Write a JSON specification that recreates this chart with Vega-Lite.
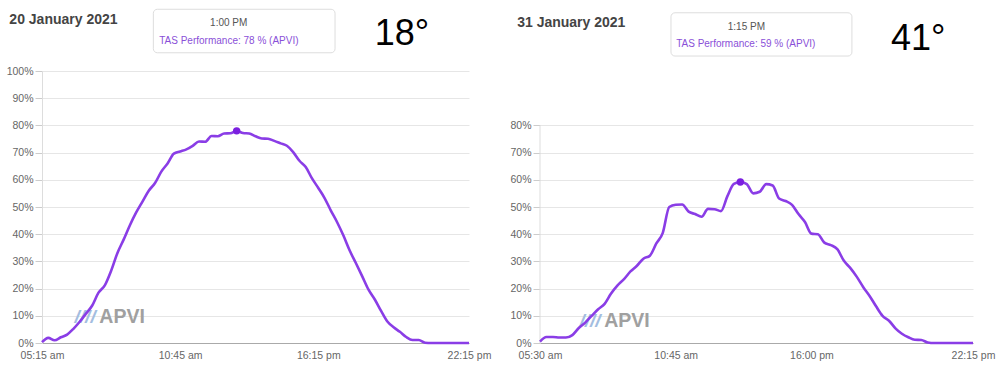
{
  "$schema": "https://vega.github.io/schema/vega-lite/v6.json",
  "padding": {"left": 6, "top": 8, "right": 5, "bottom": 5},
  "background": "white",
  "bounds": "flush",
  "spacing": 71,
  "config": {"view": {"stroke": null}, "font": "Liberation Sans"},
  "datasets": {
    "jan20": [
      {"t": "2021-01-20T05:15", "v": 0.3}, {"t": "2021-01-20T05:30", "v": 1.9}, {"t": "2021-01-20T05:45", "v": 1.0},
      {"t": "2021-01-20T06:00", "v": 2.1}, {"t": "2021-01-20T06:15", "v": 3.1}, {"t": "2021-01-20T06:30", "v": 5.2},
      {"t": "2021-01-20T06:45", "v": 7.8}, {"t": "2021-01-20T07:00", "v": 10.8}, {"t": "2021-01-20T07:15", "v": 13.8},
      {"t": "2021-01-20T07:30", "v": 18.5}, {"t": "2021-01-20T07:45", "v": 21.2}, {"t": "2021-01-20T08:00", "v": 26.5},
      {"t": "2021-01-20T08:15", "v": 33.0}, {"t": "2021-01-20T08:30", "v": 38.0}, {"t": "2021-01-20T08:45", "v": 43.3},
      {"t": "2021-01-20T09:00", "v": 48.0}, {"t": "2021-01-20T09:15", "v": 52.0}, {"t": "2021-01-20T09:30", "v": 56.0},
      {"t": "2021-01-20T09:45", "v": 58.8}, {"t": "2021-01-20T10:00", "v": 63.0}, {"t": "2021-01-20T10:15", "v": 66.0},
      {"t": "2021-01-20T10:30", "v": 69.6}, {"t": "2021-01-20T10:45", "v": 70.4}, {"t": "2021-01-20T11:00", "v": 71.2},
      {"t": "2021-01-20T11:15", "v": 72.5}, {"t": "2021-01-20T11:30", "v": 74.1}, {"t": "2021-01-20T11:45", "v": 74.0},
      {"t": "2021-01-20T12:00", "v": 76.1}, {"t": "2021-01-20T12:15", "v": 76.0}, {"t": "2021-01-20T12:30", "v": 77.0},
      {"t": "2021-01-20T12:45", "v": 77.1}, {"t": "2021-01-20T13:00", "v": 78.0}, {"t": "2021-01-20T13:15", "v": 77.2},
      {"t": "2021-01-20T13:30", "v": 77.0}, {"t": "2021-01-20T13:45", "v": 76.0}, {"t": "2021-01-20T14:00", "v": 75.2},
      {"t": "2021-01-20T14:15", "v": 75.1}, {"t": "2021-01-20T14:30", "v": 74.3}, {"t": "2021-01-20T14:45", "v": 73.4},
      {"t": "2021-01-20T15:00", "v": 72.5}, {"t": "2021-01-20T15:15", "v": 70.2}, {"t": "2021-01-20T15:30", "v": 67.0},
      {"t": "2021-01-20T15:45", "v": 64.7}, {"t": "2021-01-20T16:00", "v": 60.5}, {"t": "2021-01-20T16:15", "v": 57.0},
      {"t": "2021-01-20T16:30", "v": 53.3}, {"t": "2021-01-20T16:45", "v": 48.7}, {"t": "2021-01-20T17:00", "v": 44.4},
      {"t": "2021-01-20T17:15", "v": 39.5}, {"t": "2021-01-20T17:30", "v": 34.0}, {"t": "2021-01-20T17:45", "v": 29.3},
      {"t": "2021-01-20T18:00", "v": 24.5}, {"t": "2021-01-20T18:15", "v": 19.6}, {"t": "2021-01-20T18:30", "v": 16.0},
      {"t": "2021-01-20T18:45", "v": 11.8}, {"t": "2021-01-20T19:00", "v": 7.9}, {"t": "2021-01-20T19:15", "v": 5.8},
      {"t": "2021-01-20T19:30", "v": 4.1}, {"t": "2021-01-20T19:45", "v": 2.2}, {"t": "2021-01-20T20:00", "v": 1.1},
      {"t": "2021-01-20T20:15", "v": 1.1}, {"t": "2021-01-20T20:30", "v": 0.1}, {"t": "2021-01-20T20:45", "v": 0},
      {"t": "2021-01-20T21:00", "v": 0}, {"t": "2021-01-20T21:15", "v": 0}, {"t": "2021-01-20T21:30", "v": 0},
      {"t": "2021-01-20T21:45", "v": 0}, {"t": "2021-01-20T22:00", "v": 0}, {"t": "2021-01-20T22:15", "v": 0}
    ],
    "jan31": [
      {"t": "2021-01-31T05:30", "v": 0.5}, {"t": "2021-01-31T05:45", "v": 2.2}, {"t": "2021-01-31T06:00", "v": 2.2},
      {"t": "2021-01-31T06:15", "v": 2.0}, {"t": "2021-01-31T06:30", "v": 2.0}, {"t": "2021-01-31T06:45", "v": 2.9},
      {"t": "2021-01-31T07:00", "v": 5.5}, {"t": "2021-01-31T07:15", "v": 7.5}, {"t": "2021-01-31T07:30", "v": 10.0},
      {"t": "2021-01-31T07:45", "v": 12.4}, {"t": "2021-01-31T08:00", "v": 14.4}, {"t": "2021-01-31T08:15", "v": 18.2},
      {"t": "2021-01-31T08:30", "v": 21.2}, {"t": "2021-01-31T08:45", "v": 23.5}, {"t": "2021-01-31T09:00", "v": 26.3},
      {"t": "2021-01-31T09:15", "v": 28.4}, {"t": "2021-01-31T09:30", "v": 31.0}, {"t": "2021-01-31T09:45", "v": 32.1},
      {"t": "2021-01-31T10:00", "v": 36.6}, {"t": "2021-01-31T10:15", "v": 40.5}, {"t": "2021-01-31T10:30", "v": 50.0},
      {"t": "2021-01-31T10:45", "v": 50.8}, {"t": "2021-01-31T11:00", "v": 50.9}, {"t": "2021-01-31T11:15", "v": 48.3},
      {"t": "2021-01-31T11:30", "v": 47.4}, {"t": "2021-01-31T11:45", "v": 46.4}, {"t": "2021-01-31T12:00", "v": 49.3},
      {"t": "2021-01-31T12:15", "v": 49.2}, {"t": "2021-01-31T12:30", "v": 48.5}, {"t": "2021-01-31T12:45", "v": 54.0},
      {"t": "2021-01-31T13:00", "v": 58.5}, {"t": "2021-01-31T13:15", "v": 59.2}, {"t": "2021-01-31T13:30", "v": 58.4},
      {"t": "2021-01-31T13:45", "v": 55.0}, {"t": "2021-01-31T14:00", "v": 55.6}, {"t": "2021-01-31T14:15", "v": 58.4},
      {"t": "2021-01-31T14:30", "v": 57.9}, {"t": "2021-01-31T14:45", "v": 53.1}, {"t": "2021-01-31T15:00", "v": 52.2},
      {"t": "2021-01-31T15:15", "v": 50.8}, {"t": "2021-01-31T15:30", "v": 47.4}, {"t": "2021-01-31T15:45", "v": 44.5},
      {"t": "2021-01-31T16:00", "v": 40.2}, {"t": "2021-01-31T16:15", "v": 40.0}, {"t": "2021-01-31T16:30", "v": 36.9},
      {"t": "2021-01-31T16:45", "v": 36.0}, {"t": "2021-01-31T17:00", "v": 34.5}, {"t": "2021-01-31T17:15", "v": 30.3},
      {"t": "2021-01-31T17:30", "v": 27.6}, {"t": "2021-01-31T17:45", "v": 24.4}, {"t": "2021-01-31T18:00", "v": 20.6},
      {"t": "2021-01-31T18:15", "v": 17.3}, {"t": "2021-01-31T18:30", "v": 13.5}, {"t": "2021-01-31T18:45", "v": 10.0},
      {"t": "2021-01-31T19:00", "v": 8.2}, {"t": "2021-01-31T19:15", "v": 5.4}, {"t": "2021-01-31T19:30", "v": 3.4},
      {"t": "2021-01-31T19:45", "v": 2.1}, {"t": "2021-01-31T20:00", "v": 1.2}, {"t": "2021-01-31T20:15", "v": 1.1},
      {"t": "2021-01-31T20:30", "v": 0.2}, {"t": "2021-01-31T20:45", "v": 0}, {"t": "2021-01-31T21:00", "v": 0},
      {"t": "2021-01-31T21:15", "v": 0}, {"t": "2021-01-31T21:30", "v": 0}, {"t": "2021-01-31T21:45", "v": 0},
      {"t": "2021-01-31T22:00", "v": 0}, {"t": "2021-01-31T22:15", "v": 0}
    ]
  },
  "hconcat": [
    {
      "width": 427,
      "height": 272,
      "layer": [
        {
          "data": {"values": [{"label": "////"}]},
          "mark": {"type": "text", "align": "center", "baseline": "alphabetic", "fontSize": 19, "fontWeight": "bold", "fontStyle": "italic", "color": "#a3bde0"},
          "encoding": {
            "x": {"datum": {"year": 2021, "month": 1, "date": 20, "hours": 6, "minutes": 58}, "type": "temporal"},
            "y": {"datum": 7.2, "type": "quantitative"},
            "text": {"field": "label"}
          }
        },
        {
          "data": {"values": [{"label": "APVI"}]},
          "mark": {"type": "text", "align": "left", "baseline": "alphabetic", "fontSize": 19.5, "fontWeight": "bold", "color": "#a0a0a0"},
          "encoding": {
            "x": {"datum": {"year": 2021, "month": 1, "date": 20, "hours": 7, "minutes": 32}, "type": "temporal"},
            "y": {"datum": 7.2, "type": "quantitative"},
            "text": {"field": "label"}
          }
        },
        {
          "data": {"name": "jan20"},
          "mark": {"type": "line", "interpolate": "monotone", "color": "#8a3de6", "strokeWidth": 2.6},
          "encoding": {
            "x": {
              "field": "t", "type": "temporal",
              "scale": {"domain": [{"year": 2021, "month": 1, "date": 20, "hours": 5, "minutes": 15}, {"year": 2021, "month": 1, "date": 20, "hours": 22, "minutes": 15}]},
              "axis": {
                "title": null, "grid": false, "ticks": false, "tickSize": 0, "labelPadding": 7,
                "values": [
                  {"year": 2021, "month": 1, "date": 20, "hours": 5, "minutes": 15},
                  {"year": 2021, "month": 1, "date": 20, "hours": 10, "minutes": 45},
                  {"year": 2021, "month": 1, "date": 20, "hours": 16, "minutes": 15},
                  {"year": 2021, "month": 1, "date": 20, "hours": 22, "minutes": 15}
                ],
                "labelExpr": "timeFormat(datum.value, '%H:%M') + (hours(datum.value) < 12 ? ' am' : ' pm')",
                "labelFlush": false, "labelOverlap": false, "labelColor": "#666666", "labelFontSize": 10.5,
                "domainColor": "#aaaaaa"
              }
            },
            "y": {
              "field": "v", "type": "quantitative",
              "scale": {"domain": [0, 100]},
              "axis": {
                "title": null, "values": [0, 10, 20, 30, 40, 50, 60, 70, 80, 90, 100], "tickCount": 11,
                "labelExpr": "datum.value + '%'", "grid": true, "gridColor": "#e6e6e6", "labelOverlap": false,
                "domainColor": "#dddddd", "tickColor": "#cccccc", "tickSize": 7, "labelPadding": 2,
                "labelColor": "#666666", "labelFontSize": 10.5
              }
            }
          }
        },
        {
          "data": {"values": [{"t": "2021-01-20T13:00", "v": 78}]},
          "mark": {"type": "point", "filled": true, "size": 55, "color": "#7b1fe0", "opacity": 1},
          "encoding": {"x": {"field": "t", "type": "temporal"}, "y": {"field": "v", "type": "quantitative"}}
        },
        {
          "data": {"values": [{"label": "box"}]},
          "mark": {"type": "rect", "fill": "white", "stroke": "#dddddd", "strokeWidth": 1, "cornerRadius": 4},
          "encoding": {
            "x": {"datum": {"year": 2021, "month": 1, "date": 20, "hours": 9, "minutes": 41}, "type": "temporal"},
            "x2": {"datum": {"year": 2021, "month": 1, "date": 20, "hours": 16, "minutes": 55}},
            "y": {"datum": 122.7, "type": "quantitative"},
            "y2": {"datum": 106.7}
          }
        },
        {
          "data": {"values": [{"label": "1:00 PM"}]},
          "mark": {"type": "text", "align": "center", "baseline": "alphabetic", "fontSize": 10, "color": "#555555"},
          "encoding": {
            "x": {"datum": {"year": 2021, "month": 1, "date": 20, "hours": 12, "minutes": 41}, "type": "temporal"},
            "y": {"datum": 116.4, "type": "quantitative"},
            "text": {"field": "label"}
          }
        },
        {
          "data": {"values": [{"label": "TAS Performance: 78 % (APVI)"}]},
          "mark": {"type": "text", "align": "left", "baseline": "alphabetic", "fontSize": 10, "color": "#8a4fd8"},
          "encoding": {
            "x": {"datum": {"year": 2021, "month": 1, "date": 20, "hours": 9, "minutes": 55}, "type": "temporal"},
            "y": {"datum": 110.0, "type": "quantitative"},
            "text": {"field": "label"}
          }
        },
        {
          "data": {"values": [{"label": "20 January 2021"}]},
          "mark": {"type": "text", "align": "left", "baseline": "alphabetic", "fontSize": 14, "fontWeight": "bold", "color": "#444444"},
          "encoding": {
            "x": {"datum": {"year": 2021, "month": 1, "date": 20, "hours": 3, "minutes": 57}, "type": "temporal"},
            "y": {"datum": 117.1, "type": "quantitative"},
            "text": {"field": "label"}
          }
        },
        {
          "data": {"values": [{"label": "18°"}]},
          "mark": {"type": "text", "align": "center", "baseline": "alphabetic", "fontSize": 36, "color": "#000000"},
          "encoding": {
            "x": {"datum": {"year": 2021, "month": 1, "date": 20, "hours": 19, "minutes": 35}, "type": "temporal"},
            "y": {"datum": 109.6, "type": "quantitative"},
            "text": {"field": "label"}
          }
        }
      ]
    },
    {
      "width": 433,
      "height": 272,
      "layer": [
        {
          "data": {"values": [{"label": "////"}]},
          "mark": {"type": "text", "align": "center", "baseline": "alphabetic", "fontSize": 19, "fontWeight": "bold", "fontStyle": "italic", "color": "#a3bde0"},
          "encoding": {
            "x": {"datum": {"year": 2021, "month": 1, "date": 31, "hours": 7, "minutes": 26}, "type": "temporal"},
            "y": {"datum": 5.7, "type": "quantitative"},
            "text": {"field": "label"}
          }
        },
        {
          "data": {"values": [{"label": "APVI"}]},
          "mark": {"type": "text", "align": "left", "baseline": "alphabetic", "fontSize": 19.5, "fontWeight": "bold", "color": "#a0a0a0"},
          "encoding": {
            "x": {"datum": {"year": 2021, "month": 1, "date": 31, "hours": 7, "minutes": 59}, "type": "temporal"},
            "y": {"datum": 5.7, "type": "quantitative"},
            "text": {"field": "label"}
          }
        },
        {
          "data": {"values": [{"label": "axis"}]},
          "mark": {"type": "rule", "color": "#dddddd", "strokeWidth": 1},
          "encoding": {
            "x": {"datum": {"year": 2021, "month": 1, "date": 31, "hours": 5, "minutes": 30}, "type": "temporal"},
            "y": {"datum": 0, "type": "quantitative"},
            "y2": {"datum": 80}
          }
        },
        {
          "data": {"name": "jan31"},
          "mark": {"type": "line", "interpolate": "monotone", "color": "#8a3de6", "strokeWidth": 2.6},
          "encoding": {
            "x": {
              "field": "t", "type": "temporal",
              "scale": {"domain": [{"year": 2021, "month": 1, "date": 31, "hours": 5, "minutes": 30}, {"year": 2021, "month": 1, "date": 31, "hours": 22, "minutes": 15}]},
              "axis": {
                "title": null, "grid": false, "ticks": false, "tickSize": 0, "labelPadding": 7,
                "values": [
                  {"year": 2021, "month": 1, "date": 31, "hours": 5, "minutes": 30},
                  {"year": 2021, "month": 1, "date": 31, "hours": 10, "minutes": 45},
                  {"year": 2021, "month": 1, "date": 31, "hours": 16, "minutes": 0},
                  {"year": 2021, "month": 1, "date": 31, "hours": 22, "minutes": 15}
                ],
                "labelExpr": "timeFormat(datum.value, '%H:%M') + (hours(datum.value) < 12 ? ' am' : ' pm')",
                "labelFlush": false, "labelOverlap": false, "labelColor": "#666666", "labelFontSize": 10.5,
                "domainColor": "#aaaaaa"
              }
            },
            "y": {
              "field": "v", "type": "quantitative",
              "scale": {"domain": [0, 100]},
              "axis": {
                "title": null, "values": [0, 10, 20, 30, 40, 50, 60, 70, 80], "tickCount": 11,
                "labelExpr": "datum.value + '%'", "grid": true, "gridColor": "#e6e6e6", "labelOverlap": false,
                "domain": false, "tickColor": "#cccccc", "tickSize": 7, "labelPadding": 2,
                "labelColor": "#666666", "labelFontSize": 10.5
              }
            }
          }
        },
        {
          "data": {"values": [{"t": "2021-01-31T13:15", "v": 59.2}]},
          "mark": {"type": "point", "filled": true, "size": 55, "color": "#7b1fe0", "opacity": 1},
          "encoding": {"x": {"field": "t", "type": "temporal"}, "y": {"field": "v", "type": "quantitative"}}
        },
        {
          "data": {"values": [{"label": "box"}]},
          "mark": {"type": "rect", "fill": "white", "stroke": "#dddddd", "strokeWidth": 1, "cornerRadius": 4},
          "encoding": {
            "x": {"datum": {"year": 2021, "month": 1, "date": 31, "hours": 10, "minutes": 34}, "type": "temporal"},
            "x2": {"datum": {"year": 2021, "month": 1, "date": 31, "hours": 17, "minutes": 34}},
            "y": {"datum": 121.4, "type": "quantitative"},
            "y2": {"datum": 105.5}
          }
        },
        {
          "data": {"values": [{"label": "1:15 PM"}]},
          "mark": {"type": "text", "align": "center", "baseline": "alphabetic", "fontSize": 10, "color": "#555555"},
          "encoding": {
            "x": {"datum": {"year": 2021, "month": 1, "date": 31, "hours": 13, "minutes": 29}, "type": "temporal"},
            "y": {"datum": 115.1, "type": "quantitative"},
            "text": {"field": "label"}
          }
        },
        {
          "data": {"values": [{"label": "TAS Performance: 59 % (APVI)"}]},
          "mark": {"type": "text", "align": "left", "baseline": "alphabetic", "fontSize": 10, "color": "#8a4fd8"},
          "encoding": {
            "x": {"datum": {"year": 2021, "month": 1, "date": 31, "hours": 10, "minutes": 46}, "type": "temporal"},
            "y": {"datum": 108.8, "type": "quantitative"},
            "text": {"field": "label"}
          }
        },
        {
          "data": {"values": [{"label": "31 January 2021"}]},
          "mark": {"type": "text", "align": "left", "baseline": "alphabetic", "fontSize": 14, "fontWeight": "bold", "color": "#444444"},
          "encoding": {
            "x": {"datum": {"year": 2021, "month": 1, "date": 31, "hours": 4, "minutes": 37}, "type": "temporal"},
            "y": {"datum": 116.2, "type": "quantitative"},
            "text": {"field": "label"}
          }
        },
        {
          "data": {"values": [{"label": "41°"}]},
          "mark": {"type": "text", "align": "center", "baseline": "alphabetic", "fontSize": 36, "color": "#000000"},
          "encoding": {
            "x": {"datum": {"year": 2021, "month": 1, "date": 31, "hours": 20, "minutes": 8}, "type": "temporal"},
            "y": {"datum": 107.7, "type": "quantitative"},
            "text": {"field": "label"}
          }
        }
      ]
    }
  ]
}
